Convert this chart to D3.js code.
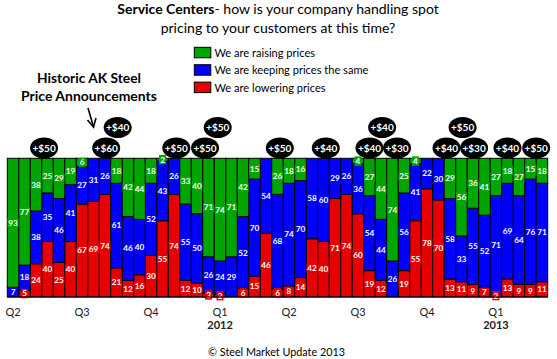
<!DOCTYPE html>
<html><head><meta charset="utf-8">
<script src="https://cdnjs.cloudflare.com/ajax/libs/d3/7.8.5/d3.min.js"></script>
<style>body{margin:0;background:#fff}svg{display:block}text{font-family:Lato,"Open Sans",sans-serif}</style>
</head><body>
<script>
const raising  = [93,77,38,25,29,19,6,0,0,18,42,44,18,2,0,33,40,71,74,71,42,15,0,26,18,16,0,0,0,0,4,27,44,74,25,4,0,0,29,56,36,41,27,18,27,15,18];
const keeping  = [7,18,38,35,46,41,27,31,26,61,46,40,52,43,26,55,50,26,24,29,52,70,54,68,74,70,58,60,29,26,36,54,44,26,56,41,22,30,58,33,55,52,71,69,64,76,71];
const lowering = [0,5,24,40,25,40,67,69,74,21,12,16,30,55,74,12,10,3,2,0,6,15,46,6,8,14,42,40,71,74,60,19,12,0,19,55,78,70,13,11,9,7,2,13,9,9,11];
const tickLabels = ["Q2","","","","","","Q3","","","","","","Q4","","","","","","Q1","","","","","","Q2","","","","","","Q3","","","","","","Q4","","","","","","Q1","","","",""];
const yearLabels = ["","","","","","","","","","","","","","","","","","","2012","","","","","","","","","","","","","","","","","","","","","","","","2013","","","",""];
const seriesNames = ["We are raising prices","We are keeping prices the same","We are lowering prices"];
const seriesColors = ["#00a500","#0000ff","#e60000"];
const annValues = ["+$50","+$60","+$40","+$50","+$50","+$50","+$50","+$40","+$40","+$30","+$40","+$40","+$30","+$50","+$40","+$50"];
const annAt     = [2.7,8.1,9.1,14.2,16.7,17.8,23.2,27.2,31.0,33.4,32.1,37.7,40.1,39.1,43.0,45.5];
const annRow    = [0,0,1,0,0,1,0,0,0,0,1,0,0,1,0,0];

const W=557,H=359;
const svg=d3.select("body").append("svg").attr("width",W).attr("height",H);
const idx=d3.range(raising.length);
const x=d3.scaleBand().domain(idx).range([7.3,547.7]).padding(0);
const y=d3.scaleLinear().domain([0,100]).range([297,158.3]);

function fit(sel,target){const n=sel.node();const w=n.getComputedTextLength();const fs=parseFloat(sel.attr("font-size"));sel.attr("font-size",fs*target/w);}

// title
const t1=svg.append("text").attr("x",278).attr("y",14).attr("text-anchor","middle").attr("font-size",14).attr("fill","#000");
t1.append("tspan").attr("font-weight","bold").text("Service Centers");
t1.append("tspan").text("- how is your company handling spot");
fit(t1,322);
const t2=svg.append("text").attr("x",278).attr("y",32.5).attr("text-anchor","middle").attr("font-size",14).attr("fill","#000").text("pricing to your customers at this time?");
fit(t2,235);

// legend
const lg=svg.append("g");
seriesNames.forEach((n,i)=>{
  const yy=47.3+i*17.4;
  lg.append("rect").attr("x",194.3).attr("y",yy).attr("width",16.5).attr("height",10.5).attr("fill",seriesColors[i]).attr("stroke","#000").attr("stroke-width",1);
  const t=lg.append("text").attr("x",214.5).attr("y",yy+9.5).attr("font-size",12).attr("fill","#000").text(n);
  if(i===1) fit(t,154);
});
lg.selectAll("text").attr("font-size",lg.selectAll("text").filter((d,i)=>i===1).attr("font-size"));

// historic label
const h1=svg.append("text").attr("x",89).attr("y",83).attr("text-anchor","middle").attr("font-weight","bold").attr("font-size",13).text("Historic AK Steel");
fit(h1,104);
const h2=svg.append("text").attr("x",89).attr("y",101).attr("text-anchor","middle").attr("font-weight","bold").attr("font-size",13).text("Price Announcements");
fit(h2,136);

// arrow
svg.append("path").attr("d","M88,108 L93.5,127").attr("stroke","#000").attr("stroke-width",1.6).attr("fill","none");
svg.append("path").attr("d","M87.5,120 L93.5,127 L96,118").attr("stroke","#000").attr("stroke-width",1.6).attr("fill","none");

// stacked bars
const rows=idx.map(i=>({i,raising:raising[i],keeping:keeping[i],lowering:lowering[i]}));
const keys=["lowering","keeping","raising"];
const colorOf={raising:seriesColors[0],keeping:seriesColors[1],lowering:seriesColors[2]};
const stack=d3.stack().keys(keys)(rows);
const gb=svg.append("g");
stack.forEach(s=>{
  gb.selectAll(null).data(s.filter(d=>d[1]-d[0]>0)).enter().append("rect")
    .attr("x",d=>x(d.data.i)).attr("width",x.bandwidth())
    .attr("y",d=>y(d[1])).attr("height",d=>y(d[0])-y(d[1]))
    .attr("fill",colorOf[s.key]).attr("stroke","#000").attr("stroke-width",1);
});
// labels
const gl=svg.append("g");
stack.forEach(s=>{
  s.forEach(d=>{
    const v=d[1]-d[0]; if(v<=0) return;
    const cx=x(d.data.i)+x.bandwidth()/2, cy=(y(d[0])+y(d[1]))/2;
    const t=String(v);
    const bw=t.length===1?7:11;
    gl.append("rect").attr("x",cx-bw/2).attr("y",cy-4.7).attr("width",bw).attr("height",9.4).attr("fill",colorOf[s.key]);
    gl.append("text").attr("x",cx).attr("y",cy+2.9).attr("text-anchor","middle").attr("font-size",8.2).attr("font-weight","bold").attr("fill","#fff").text(t);
  });
});
// axis baseline
svg.append("line").attr("x1",7.3).attr("x2",547.7).attr("y1",297).attr("y2",297).attr("stroke","#000").attr("stroke-width",1.2);

// x axis labels via d3 axis
const ax=svg.append("g").attr("transform","translate(0,308)")
  .call(d3.axisBottom(x).tickValues(idx.filter(i=>tickLabels[i])).tickFormat(i=>tickLabels[i]).tickSize(0).tickPadding(0));
ax.select(".domain").remove();
ax.selectAll("text").attr("font-family","Lato,sans-serif").attr("font-size",11).attr("fill","#222").attr("dy","0.71em");
const ay=svg.append("g").attr("transform","translate(0,321)")
  .call(d3.axisBottom(x).tickValues(idx.filter(i=>yearLabels[i])).tickFormat(i=>yearLabels[i]).tickSize(0).tickPadding(0));
ay.select(".domain").remove();
ay.selectAll("text").attr("font-family","Lato,sans-serif").attr("font-size",11).attr("font-weight","bold").attr("fill","#222").attr("dy","0.71em");

// announcements
const ga=svg.append("g");
const annY=[148,127.5];
const order=d3.range(annValues.length).sort((a,b)=>annRow[b]-annRow[a]);
order.forEach(k=>{
  const cx=x(0)+(annAt[k]+0.5)*x.bandwidth(), cy=annY[annRow[k]];
  ga.append("ellipse").attr("cx",cx).attr("cy",cy).attr("rx",14).attr("ry",10.5).attr("fill","#000");
  ga.append("text").attr("x",cx).attr("y",cy+3.6).attr("text-anchor","middle").attr("font-size",10).attr("font-weight","bold").attr("fill","#fff").text(annValues[k]);
});

// footer
const f=svg.append("text").attr("x",276.5).attr("y",356).attr("text-anchor","middle").attr("font-size",12).attr("fill","#000").text("© Steel Market Update 2013");
fit(f,137);
</script>
</body></html>
